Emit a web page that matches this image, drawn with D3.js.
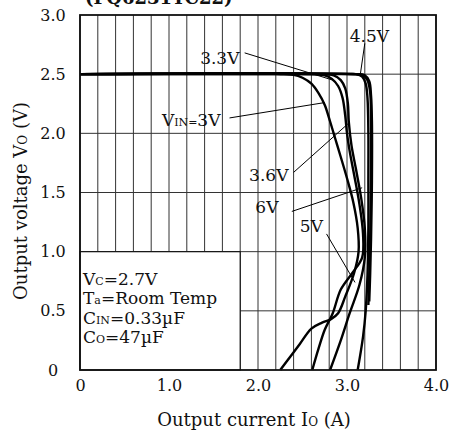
<!DOCTYPE html>
<html>
<head>
<meta charset="utf-8">
<script src="https://cdn.jsdelivr.net/npm/d3@7"></script>
<style>
  body { margin: 0; background: #fff; }
  svg text { font-family: "DejaVu Serif", serif; fill: #111; }
</style>
</head>
<body>
<div id="viz"></div>
<script>
const width = 456;
const height = 433;
const margin = {top: 15, right: 20, bottom: 63, left: 80};

// tick values
const xTicks = [0, 1.0, 2.0, 3.0, 4.0];
const yTicks = [0, 0.5, 1.0, 1.5, 2.0, 2.5, 3.0];
const xGrid = d3.range(0, 21).map(i => i * 0.2);
const yGrid = [0.5, 1.0, 1.5, 2.0, 2.5];

// curves: [current A, voltage V]
const vin3 = [[0, 2.5], [2.2, 2.5], [2.4, 2.495], [2.5, 2.47], [2.6, 2.42], [2.68, 2.34], [2.75, 2.24], [2.81, 2.1], [2.87, 1.95], [2.93, 1.8], [3.0, 1.62], [3.07, 1.42], [3.12, 1.2], [3.13, 1.0], [3.08, 0.82], [2.98, 0.62], [2.9, 0.48], [2.82, 0.43], [2.72, 0.4], [2.6, 0.35], [2.47, 0.22], [2.36, 0.11], [2.25, 0]];
const vin33 = [[0, 2.5], [2.6, 2.5], [2.75, 2.49], [2.83, 2.46], [2.9, 2.4], [2.95, 2.3], [2.98, 2.15], [3.0, 2.0], [3.03, 1.85], [3.08, 1.65], [3.14, 1.4], [3.18, 1.15], [3.17, 0.95], [3.06, 0.82], [2.93, 0.68], [2.84, 0.48], [2.75, 0.34], [2.68, 0.18], [2.61, 0]];
const vin36 = [[0, 2.5], [2.7, 2.5], [2.85, 2.49], [2.93, 2.45], [2.98, 2.38], [3.01, 2.25], [3.02, 2.1], [3.05, 1.9], [3.1, 1.7], [3.16, 1.45], [3.2, 1.2], [3.2, 0.95], [3.14, 0.72], [3.03, 0.48], [2.93, 0.25], [2.81, 0]];
const vin45 = [[0, 2.5], [3.0, 2.5], [3.1, 2.5], [3.17, 2.48], [3.21, 2.42], [3.23, 2.3], [3.24, 2.0], [3.24, 1.6], [3.24, 1.2], [3.23, 0.8], [3.21, 0.5], [3.18, 0.28], [3.12, 0]];
const vin5 = [[0, 2.5], [3.05, 2.5], [3.18, 2.49], [3.23, 2.45], [3.26, 2.35], [3.27, 2.1], [3.27, 1.6], [3.26, 1.1], [3.25, 0.8], [3.24, 0.55]];
const vin6 = [[0, 2.5], [3.1, 2.5], [3.2, 2.49], [3.25, 2.44], [3.27, 2.32], [3.28, 2.1], [3.28, 1.6], [3.27, 1.1], [3.26, 0.8], [3.25, 0.58]];
const curves = [vin3, vin33, vin36, vin45, vin5, vin6];

// curve labels: text, label position (A, V), leader end (A, V)
const labels = [
  {text: '3.3V', at: [1.35, 2.59], from: [1.85, 2.68], to: [2.84, 2.45]},
  {text: '4.5V', at: [3.03, 2.77], from: [3.2, 2.76], to: [3.15, 2.5]},
  {text: '3V', sub: 'IN', pre: 'V', at: [0.92, 2.06], from: [1.68, 2.13], to: [2.75, 2.26]},
  {text: '3.6V', at: [1.9, 1.6], from: [2.4, 1.67], to: [3.01, 2.08]},
  {text: '6V', at: [1.97, 1.33], from: [2.38, 1.34], to: [3.17, 1.54]},
  {text: '5V', at: [2.47, 1.17], from: [2.77, 1.15], to: [3.09, 0.74]}
];
const conditions = [
  ['V', 'C', '=2.7V'],
  ['T', 'a', '=Room Temp'],
  ['C', 'IN', '=0.33µF'],
  ['C', 'O', '=47µF']
];

const scaleX = d3.scaleLinear()
  .domain([0, 4])
  .range([margin.left, width - margin.right]);
const scaleY = d3.scaleLinear()
  .domain([0, 3])
  .range([height - margin.bottom, margin.top]);

const svg = d3.select('#viz')
  .append('svg')
    .attr('viewBox', [0, 0, width, height])
    .attr('width', width)
    .attr('height', height);

// title, cut at the top of the picture
svg.append('text')
  .attr('x', 85)
  .attr('y', 4)
  .style('font-weight', 'bold')
  .style('font-size', '18px')
  .text('(FQ6231YC22)');

// grid
svg.append('g')
  .selectAll('line')
  .data(xGrid)
  .join('line')
    .attr('x1', d => scaleX(d))
    .attr('x2', d => scaleX(d))
    .attr('y1', scaleY(0))
    .attr('y2', scaleY(3))
    .attr('stroke', '#333')
    .attr('stroke-width', 1);
svg.append('g')
  .selectAll('line')
  .data(yGrid)
  .join('line')
    .attr('x1', scaleX(0))
    .attr('x2', scaleX(4))
    .attr('y1', d => scaleY(d))
    .attr('y2', d => scaleY(d))
    .attr('stroke', '#333')
    .attr('stroke-width', 1);

// conditions box hides the grid below it
svg.append('rect')
  .attr('x', scaleX(0))
  .attr('y', scaleY(1.0))
  .attr('width', scaleX(1.8) - scaleX(0))
  .attr('height', scaleY(0) - scaleY(1.0))
  .attr('fill', '#fff')
  .attr('stroke', '#111')
  .attr('stroke-width', 1.2);

const condText = svg.append('g')
  .selectAll('text')
  .data(conditions)
  .join('text')
    .attr('x', scaleX(0) + 3)
    .attr('y', (d, i) => 285 + i * 19.3)
    .style('font-size', '17px');
condText.append('tspan').text(d => d[0]);
condText.append('tspan').style('font-size', '11px').text(d => d[1]);
condText.append('tspan').text(d => d[2]);

// curves
const line = d3.line()
  .x(d => scaleX(d[0]))
  .y(d => scaleY(d[1]))
  .curve(d3.curveCatmullRom);
svg.append('g')
  .selectAll('path')
  .data(curves)
  .join('path')
    .attr('d', line)
    .attr('fill', 'none')
    .attr('stroke', '#000')
    .attr('stroke-width', 2.4);

// curve labels and leaders
svg.append('g')
  .selectAll('line')
  .data(labels)
  .join('line')
    .attr('x1', d => scaleX(d.from[0]))
    .attr('y1', d => scaleY(d.from[1]))
    .attr('x2', d => scaleX(d.to[0]))
    .attr('y2', d => scaleY(d.to[1]))
    .attr('stroke', '#000')
    .attr('stroke-width', 1);
const labelText = svg.append('g')
  .selectAll('text')
  .data(labels)
  .join('text')
    .attr('x', d => scaleX(d.at[0]))
    .attr('y', d => scaleY(d.at[1]))
    .style('font-size', '17px');
labelText.filter(d => d.pre).append('tspan').text(d => d.pre);
labelText.filter(d => d.sub).append('tspan').style('font-size', '11px').text(d => d.sub + '=');
labelText.append('tspan').text(d => d.text);

// frame
svg.append('rect')
  .attr('x', scaleX(0))
  .attr('y', scaleY(3))
  .attr('width', scaleX(4) - scaleX(0))
  .attr('height', scaleY(0) - scaleY(3))
  .attr('fill', 'none')
  .attr('stroke', '#111')
  .attr('stroke-width', 1.8);

// axes (labels only, the grid carries the ticks)
const axisBottom = d3.axisBottom(scaleX)
  .tickValues(xTicks)
  .tickFormat(d => d === 0 ? '0' : d3.format('.1f')(d))
  .tickSize(0)
  .tickPadding(10);
svg.append('g')
  .attr('transform', `translate(0,${scaleY(0)})`)
  .call(axisBottom)
  .call(g => g.select('.domain').remove())
  .call(g => g.selectAll('text').style('font-family', '"DejaVu Serif", serif').style('font-size', '16px').attr('fill', '#111'));

const axisLeft = d3.axisLeft(scaleY)
  .tickValues(yTicks)
  .tickFormat(d => d === 0 ? '0' : d3.format('.1f')(d))
  .tickSize(0)
  .tickPadding(0);
svg.append('g')
  .attr('transform', `translate(53,0)`)
  .call(axisLeft)
  .call(g => g.select('.domain').remove())
  .call(g => g.selectAll('text').attr('text-anchor', 'middle').style('font-family', '"DejaVu Serif", serif').style('font-size', '16px').attr('fill', '#111'));

// axis titles
const xTitle = svg.append('text')
  .attr('x', 254)
  .attr('y', 426)
  .attr('text-anchor', 'middle')
  .style('font-size', '18px');
xTitle.append('tspan').text('Output current I');
xTitle.append('tspan').style('font-size', '12px').text('O');
xTitle.append('tspan').text(' (A)');

const yTitle = svg.append('text')
  .attr('text-anchor', 'middle')
  .attr('transform', 'translate(27,201) rotate(-90)')
  .style('font-size', '18px');
yTitle.append('tspan').text('Output voltage V');
yTitle.append('tspan').style('font-size', '12px').text('O');
yTitle.append('tspan').text('  (V)');
</script>
</body>
</html>
